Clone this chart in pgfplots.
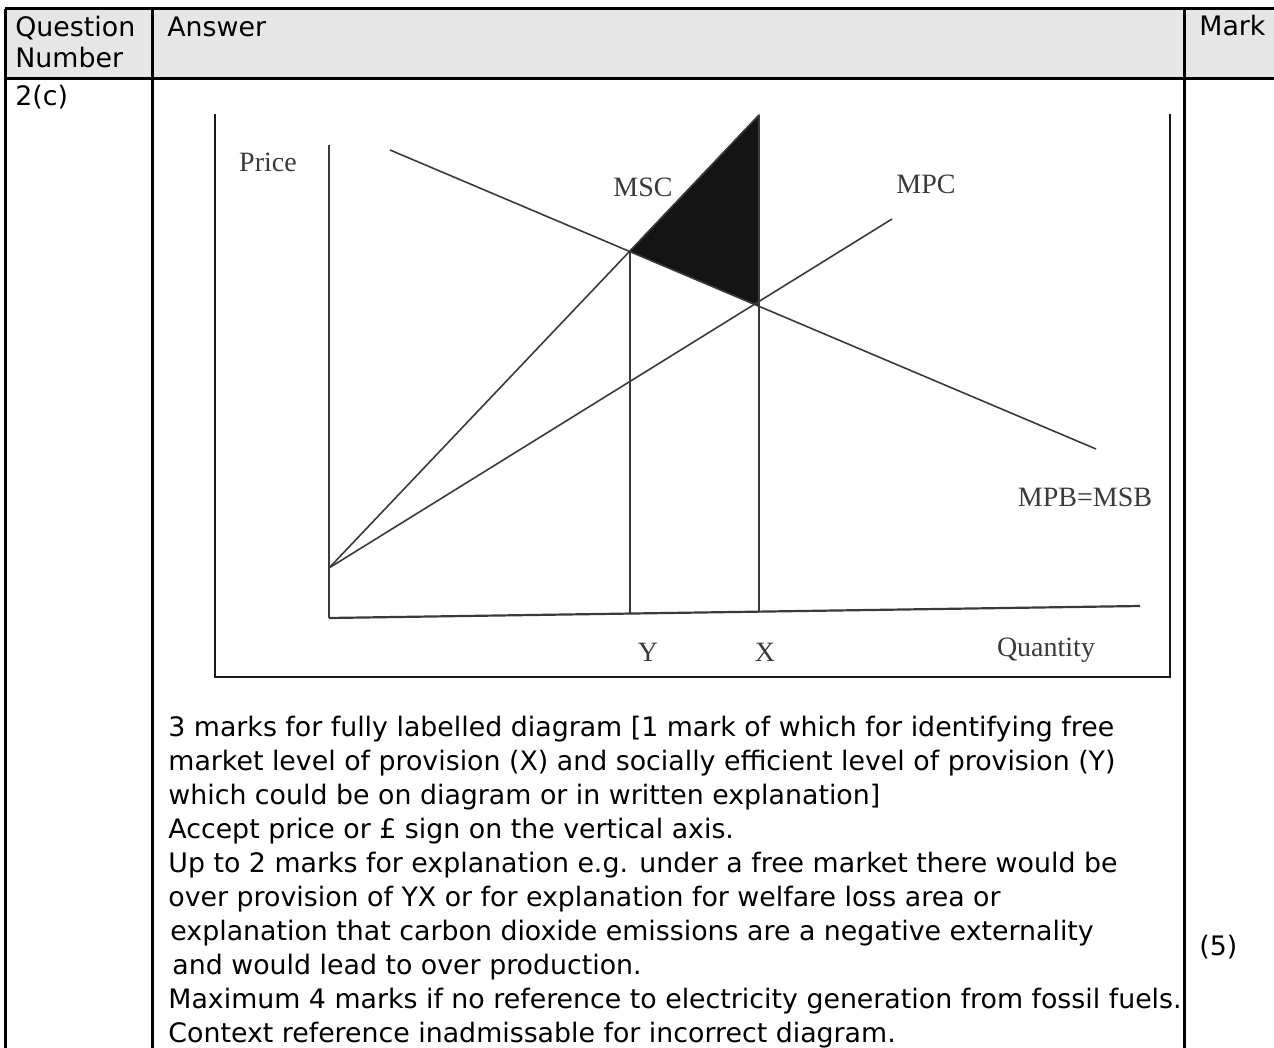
\documentclass[border=0pt]{standalone}
\usepackage{pgfplots}
\pgfplotsset{compat=1.18}
\usepackage{fontspec}
\setmainfont{DejaVu Sans}
\newfontfamily\scanfont{Liberation Serif}
\definecolor{headgray}{HTML}{E6E6E6}
\definecolor{inkgray}{HTML}{3A3A3A}
\tikzset{
  ln/.style={draw=inkgray, line width=0.8pt, mark=none, solid},
  lbl/.style={font=\scanfont\fontsize{14}{16}\selectfont, text=inkgray, inner sep=0pt},
}

\begin{document}
\begin{tikzpicture}
\begin{scope}[x=0.5pt,y=-0.5pt]
\useasboundingbox (0,0) rectangle (1274,1048);

% table
\fill[headgray] (5,9) rectangle (1274,79);
\draw[line width=1.5pt] (5,9) -- (1274,9);
\draw[line width=1.5pt] (5,79) -- (1274,79);
\draw[line width=1.5pt] (5,9) -- (5,1048);
\draw[line width=1.5pt] (152,9) -- (152,1048);
\draw[line width=1.5pt] (1184,9) -- (1184,1048);

\begin{scope}[every node/.style={anchor=base west,inner sep=0pt,font=\fontsize{13.4}{17}\selectfont}]
\node at (15,37) {Question};
\node at (15,68) {Number};
\node at (15,106) {2(c)};
\node at (167,37) {Answer};
\node at (1199,36) {Mark};
\node at (1199,955) {(5)};
\node at (168,736) {3 marks for fully labelled diagram [1 mark of which for identifying free};
\node at (168,770) {market level of provision (X) and socially efficient level of provision (Y)};
\node at (168,804) {which could be on diagram or in written explanation]};
\node at (168,838) {Accept price or £ sign on the vertical axis.};
\node at (168,872) {Up to 2 marks for explanation e.g. under a free market there would be};
\node at (168,906) {over provision of YX or for explanation for welfare loss area or};
\node at (170,940) {explanation that carbon dioxide emissions are a negative externality};
\node at (172,974) {and would lead to over production.};
\node at (168,1008) {Maximum 4 marks if no reference to electricity generation from fossil fuels.};
\node at (168,1042) {Context reference inadmissable for incorrect diagram.};
\end{scope}

% frame of the scanned diagram
\draw[line width=1.4pt,black!90] (215,114) -- (215,677) -- (1170,677) -- (1170,114);
\end{scope}

\begin{axis}[
    at={(107.5pt,-338.5pt)}, anchor=south west,
    scale only axis, width=477.5pt, height=281.5pt,
    xmin=-11.4, xmax=84.1, ymin=-5.9, ymax=50.4,
    hide axis, clip=false,
]
% welfare loss triangle
\addplot[fill=black!92, draw=black!92, mark=none] coordinates {(30.05,36.66) (43.0,50.3) (43.0,31.17)} -- cycle;
% axes
\addplot[ln] coordinates {(0,47.3) (0,0)};
\addplot[ln, line width=1.1pt] coordinates {(0,0) (81.1,1.2)};
% MPB=MSB
\addplot[ln] coordinates {(6.1,46.8) (76.7,16.9)};
% MSC
\addplot[ln] coordinates {(0,5.0) (43.0,50.3)};
% MPC
\addplot[ln] coordinates {(0,5.0) (56.3,39.9)};
% Y and X
\addplot[ln] coordinates {(30.1,36.6) (30.1,0.45)};
\addplot[ln] coordinates {(43.0,50.3) (43.0,0.64)};

\node[lbl] at (axis cs:-6.1,45.6) {Price};
\node[lbl] at (axis cs:31.4,43.1) {MSC};
\node[lbl] at (axis cs:59.7,43.4) {MPC};
\node[lbl] at (axis cs:75.6,12.1) {MPB=MSB};
\node[lbl] at (axis cs:31.9,-3.4) {Y};
\node[lbl] at (axis cs:43.6,-3.4) {X};
\node[lbl] at (axis cs:71.7,-3.2) {Quantity};
\end{axis}
\end{tikzpicture}
\end{document}
